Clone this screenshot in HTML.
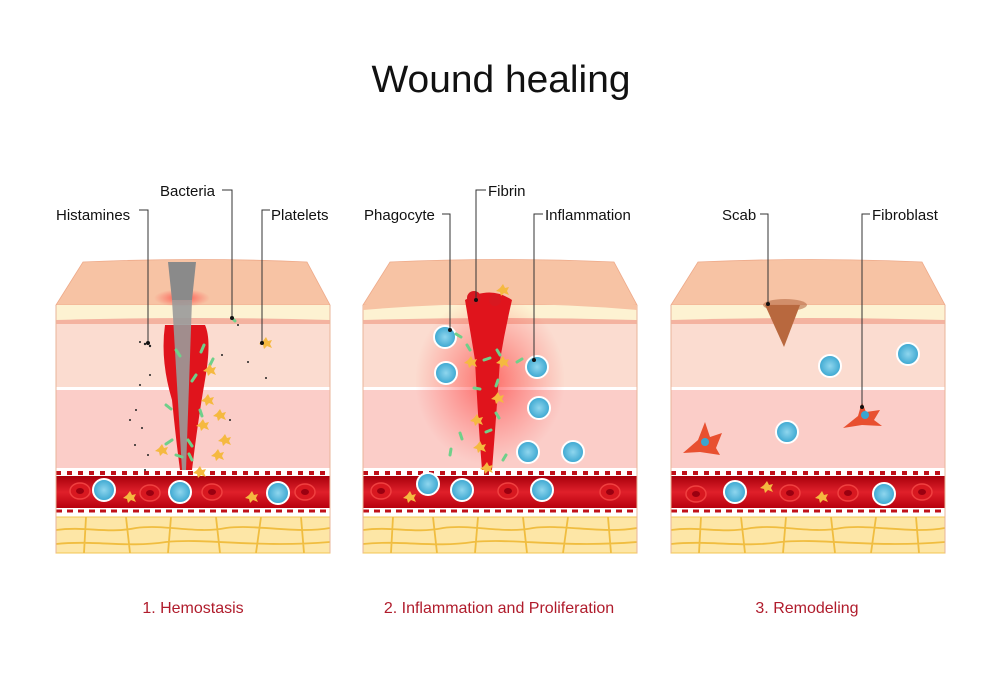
<!DOCTYPE html>
<html><head><meta charset="utf-8"><style>
html,body{margin:0;padding:0;background:#fff}
svg{display:block}
text{font-family:"Liberation Sans",Arial,sans-serif}
</style></head><body>
<svg width="1000" height="695" viewBox="0 0 1000 695" xmlns="http://www.w3.org/2000/svg">
<defs>
<linearGradient id="ves" x1="0" y1="0" x2="0" y2="1"><stop offset="0" stop-color="#a8000c"/><stop offset="0.5" stop-color="#e0202a"/><stop offset="1" stop-color="#b8000e"/></linearGradient>
<radialGradient id="glow"><stop offset="0" stop-color="#ff2020" stop-opacity="0.75"/><stop offset="1" stop-color="#ff4040" stop-opacity="0"/></radialGradient>
<radialGradient id="cell"><stop offset="0" stop-color="#8fd6ee"/><stop offset="1" stop-color="#3aa6d0"/></radialGradient>
<g id="base">
 <path d="M27,262 Q140,257 251,262 L274,305 L0,305 Z" fill="#f7c3a4" stroke="#eeaa8a" stroke-width="0.8"/>
 <rect x="0" y="305" width="274" height="17" fill="#fdf2d2"/>
 <path d="M0,320 Q137,316 274,320 L274,324 L0,324Z" fill="#f4b3a0"/>
 <rect x="0" y="324" width="274" height="63" fill="#fbdcd0"/>
 <rect x="0" y="387" width="274" height="3" fill="#fff"/>
 <rect x="0" y="390" width="274" height="78" fill="#fbcdc8"/>
 <rect x="0" y="468" width="274" height="8" fill="#fff"/>
 <path d="M0,473 H274" stroke="#c0101a" stroke-width="4" stroke-dasharray="5 6"/>
 <rect x="0" y="476" width="274" height="32" fill="url(#ves)"/>
 <rect x="0" y="508" width="274" height="9" fill="#fff"/>
 <path d="M0,511 H274" stroke="#c0101a" stroke-width="3" stroke-dasharray="6 5"/>
 <rect x="0" y="517" width="274" height="36" fill="#fde6a6" stroke="#f3c653" stroke-width="1"/>
 <path d="M0,530 C30,526 50,534 80,528 C110,524 140,534 170,528 C200,524 240,534 274,528 M0,544 C40,540 70,548 110,542 C150,538 200,548 274,542 M30,517 L28,553 M70,517 L74,553 M115,517 L112,553 M160,517 L164,553 M205,517 L200,553 M245,517 L248,553" fill="none" stroke="#f0bd40" stroke-width="1.8"/>
 <path d="M0,305 V553 M274,305 V553" stroke="#e8b49a" stroke-width="1"/>
</g>
<g id="rbc"><ellipse rx="10" ry="8" fill="#d81820" stroke="#f04040" stroke-width="1.5"/><ellipse rx="4" ry="3" fill="#9a0010"/></g>
<g id="wbc"><circle r="11" fill="url(#cell)" stroke="#fff" stroke-width="2"/></g>
<g id="plt"><path d="M0,-6 L2,-2 L6,-3 L4,1 L6,5 L1,3 L-2,6 L-3,2 L-7,1 L-3,-2Z" fill="#f5b940"/></g>
</defs>

<text x="501" y="92" font-size="38" text-anchor="middle" textLength="259" lengthAdjust="spacingAndGlyphs" fill="#111">Wound healing</text>

<use href="#base" x="56"/>
<use href="#base" x="363"/>
<use href="#base" x="671"/>
<!-- panel 2 surface dip -->
<path d="M363,305 Q500,290 637,305 L637,310 Q500,298 363,310Z" fill="#f7c3a4"/>

<!-- panel 1 -->
<g>
 <ellipse cx="182" cy="298" rx="28" ry="9" fill="url(#glow)"/>
 <path d="M165,325 Q160,360 172,400 Q176,440 180,470 L192,470 Q198,420 205,380 Q212,340 205,325Z" fill="#e0141c"/>
 <path d="M168,262 L196,262 L192,300 L172,300Z" fill="#8a8a8a"/>
 <path d="M172,300 L192,300 L186,470 L182,470Z" fill="#9a9a9a" opacity="0.9"/>
 <g fill="none" stroke="#6fd08a" stroke-width="3" stroke-linecap="round">
  <path d="M176,350 l4,6 M204,345 l-3,7 M196,375 l-4,6 M210,365 l3,-6 M166,405 l5,4 M200,410 l2,6 M172,440 l-6,4 M188,440 l4,6 M176,455 l6,2 M192,460 l-3,-6 M232,318 l3,3"/>
 </g>
 <use href="#plt" x="210" y="370"/><use href="#plt" x="208" y="400"/><use href="#plt" x="220" y="415"/><use href="#plt" x="203" y="425"/><use href="#plt" x="225" y="440"/><use href="#plt" x="162" y="450"/><use href="#plt" x="218" y="455"/><use href="#plt" x="200" y="472"/><use href="#plt" x="266" y="343"/><use href="#plt" x="130" y="497"/><use href="#plt" x="252" y="497"/>
 <g fill="#222"><circle cx="145" cy="344" r="1.2"/><circle cx="150" cy="346" r="1.2"/><circle cx="140" cy="342" r="1"/><circle cx="140" cy="385" r="1"/><circle cx="136" cy="410" r="1"/><circle cx="130" cy="420" r="1"/><circle cx="142" cy="428" r="1"/><circle cx="135" cy="445" r="1"/><circle cx="148" cy="455" r="1"/><circle cx="145" cy="470" r="1"/><circle cx="222" cy="355" r="1"/><circle cx="248" cy="362" r="1"/><circle cx="266" cy="378" r="1"/><circle cx="238" cy="325" r="1"/><circle cx="150" cy="375" r="1"/><circle cx="230" cy="420" r="1"/></g>
 <use href="#rbc" x="80" y="491"/><use href="#wbc" x="104" y="490"/><use href="#rbc" x="150" y="493"/><use href="#wbc" x="180" y="492"/><use href="#rbc" x="212" y="492"/><use href="#wbc" x="278" y="493"/><use href="#rbc" x="305" y="492"/>
</g>

<!-- panel 2 -->
<g>
 <ellipse cx="490" cy="380" rx="75" ry="85" fill="url(#glow)" opacity="0.8"/>
 <path d="M465,300 Q490,285 512,300 Q505,330 500,360 Q496,420 492,470 L482,470 Q478,420 475,360 Q470,330 465,300Z" fill="#e0141c"/>
 <circle cx="474" cy="298" r="7" fill="#d81820"/><circle cx="495" cy="300" r="6" fill="#d81820"/>
 <use href="#wbc" x="445" y="337"/><use href="#wbc" x="446" y="373"/><use href="#wbc" x="537" y="367"/><use href="#wbc" x="539" y="408"/><use href="#wbc" x="528" y="452"/><use href="#wbc" x="573" y="452"/>
 <use href="#plt" x="471" y="362"/><use href="#plt" x="503" y="362"/><use href="#plt" x="498" y="398"/><use href="#plt" x="477" y="420"/><use href="#plt" x="480" y="447"/><use href="#plt" x="487" y="468"/><use href="#plt" x="503" y="290"/><use href="#plt" x="410" y="497"/>
 <g fill="none" stroke="#6fd08a" stroke-width="3" stroke-linecap="round">
  <path d="M456,334 l5,3 M467,345 l3,5 M484,360 l6,-2 M497,350 l3,5 M517,362 l5,-3 M498,380 l-2,6 M474,388 l6,1 M496,413 l3,5 M460,433 l2,6 M486,432 l5,-2 M451,449 l-1,6 M506,455 l-3,5"/>
 </g>
 <use href="#rbc" x="381" y="491"/><use href="#wbc" x="428" y="484"/><use href="#wbc" x="462" y="490"/><use href="#rbc" x="508" y="491"/><use href="#wbc" x="542" y="490"/><use href="#rbc" x="610" y="492"/>
</g>

<!-- panel 3 -->
<g>
 <ellipse cx="785" cy="305" rx="22" ry="6" fill="#b86a44" opacity="0.6"/>
 <path d="M765,305 L800,305 L784,347Z" fill="#b8683e"/>
 <use href="#wbc" x="830" y="366"/><use href="#wbc" x="908" y="354"/><use href="#wbc" x="787" y="432"/>
 <path d="M683,453 L698,440 L705,422 L710,437 L722,433 L716,448 L720,455 L700,452Z" fill="#e85030"/><circle cx="705" cy="442" r="4" fill="#3aa6d0"/>
 <path d="M843,428 L858,416 L862,402 L866,412 L880,410 L874,420 L882,426 L862,425Z" fill="#e85030"/><circle cx="865" cy="415" r="4" fill="#3aa6d0"/>
 <use href="#rbc" x="696" y="494"/><use href="#wbc" x="735" y="492"/><use href="#plt" x="767" y="487"/><use href="#rbc" x="790" y="493"/><use href="#plt" x="822" y="497"/><use href="#rbc" x="848" y="493"/><use href="#wbc" x="884" y="494"/><use href="#rbc" x="922" y="492"/>
</g>

<g fill="none" stroke="#333" stroke-width="1">
 <path d="M139,210 H148 V343"/><path d="M222,190 H232 V318"/><path d="M270,210 H262 V343"/>
 <path d="M442,214 H450 V330"/><path d="M486,190 H476 V300"/><path d="M543,214 H534 V360"/>
 <path d="M760,214 H768 V304"/><path d="M870,214 H862 V407"/>
</g>
<g fill="#111"><circle cx="148" cy="343" r="2"/><circle cx="232" cy="318" r="2"/><circle cx="262" cy="343" r="2"/><circle cx="450" cy="330" r="2"/><circle cx="476" cy="300" r="2"/><circle cx="534" cy="360" r="2"/><circle cx="768" cy="304" r="2"/><circle cx="862" cy="407" r="2"/></g>

<g font-size="15" fill="#111">
 <text x="56" y="220">Histamines</text>
 <text x="160" y="196">Bacteria</text>
 <text x="271" y="220">Platelets</text>
 <text x="364" y="220">Phagocyte</text>
 <text x="488" y="196">Fibrin</text>
 <text x="545" y="220">Inflammation</text>
 <text x="722" y="220">Scab</text>
 <text x="872" y="220">Fibroblast</text>
</g>
<g font-size="16" fill="#b01c2c" text-anchor="middle">
 <text x="193" y="613">1. Hemostasis</text>
 <text x="499" y="613">2. Inflammation and Proliferation</text>
 <text x="807" y="613">3. Remodeling</text>
</g>
</svg>
</body></html>
